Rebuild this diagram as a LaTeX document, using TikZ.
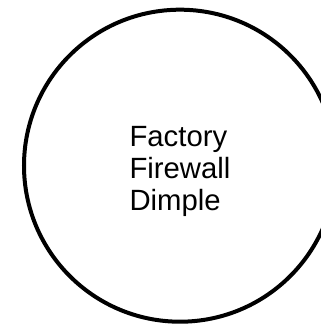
\documentclass[tikz,border=0pt]{standalone}
\usepackage{fontspec}
\setmainfont{Liberation Sans}

\begin{document}
\begin{tikzpicture}
[x=1bp,y=1bp,%
  zoneDecorate/.style={shape=circle,draw,line width=4bp,minimum size=312bp,inner sep=0pt},%
  labelDecorate/.style={align=left,font=\fontsize{29.4}{32.2}\selectfont}]
%% frame
\useasboundingbox (0,0) rectangle (321,325);
\clip (0,0) rectangle (321,325);
%% zone
\node (zone) at (180,159.3) [zoneDecorate] {};
%% label
\node (label) at (180,153.2) [labelDecorate] {Factory\\Firewall\\Dimple};
\end{tikzpicture}
\end{document}
